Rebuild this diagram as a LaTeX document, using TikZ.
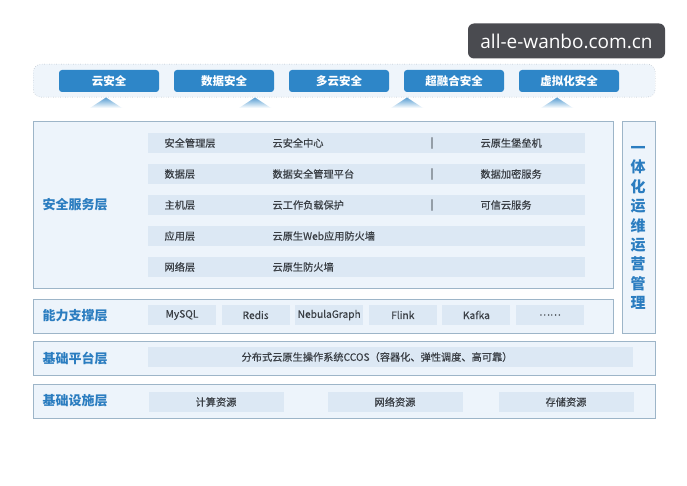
\documentclass[tikz,border=0pt]{standalone}
\usepackage{fontspec}
\setmainfont{Noto Sans CJK SC}
\newfontfamily\cellfont{Noto Sans CJK SC}[FakeBold=0.4]
\newfontfamily\markfont{Open Sans}
\usepackage{xcolor}
\usepackage{tikz}

\definecolor{btnblue}{HTML}{2E86C8}
\definecolor{layerblue}{HTML}{2B7DC0}
\definecolor{boxline}{HTML}{9DB5C8}
\definecolor{boxfill}{HTML}{EDF4FB}
\definecolor{barfill}{HTML}{DCE8F4}
\definecolor{topfill}{HTML}{EFF5FB}
\definecolor{dotline}{HTML}{8E9AA6}
\definecolor{textgray}{HTML}{3A3F45}
\definecolor{markgray}{HTML}{4A4B50}

\tikzset{
    layerbox/.style={draw=boxline, fill=boxfill, line width=0.9pt, inner sep=0pt, anchor=north west},
    layername/.style={text=layerblue, font=\bfseries\fontsize{13}{13}\selectfont},
    barbox/.style={fill=barfill, minimum height=20pt, inner sep=0pt},
    celltext/.style={text=textgray, font=\cellfont\fontsize{10.2}{10.2}\selectfont},
    topbtn/.style={fill=btnblue, rounded corners=3pt, minimum width=100pt, minimum height=22pt,
        inner sep=0pt, text=white, font=\bfseries\fontsize{11.5}{11.5}\selectfont},
}

\begin{document}
\begin{tikzpicture}[x=1pt, y=-1pt]
    % page
    \fill[white] (0,0) rectangle (687,486);

    % watermark
    \node[fill=markgray, rounded corners=6pt, minimum width=197pt, minimum height=35pt,
        inner sep=0pt, text=white, font=\markfont\fontsize{19}{19}\selectfont] (mark) at (566.5,41) {all-e-wanbo.com.cn};

    % top row of products
    \node[draw=dotline, dotted, fill=topfill, rounded corners=8pt, minimum width=622pt,
        minimum height=33pt, inner sep=0pt, anchor=north west] (topbar) at (33,64) {};
    \foreach \x/\t [count=\i] in {109/云安全, 224/数据安全, 339/多云安全, 454/超融合安全, 569/虚拟化安全}
        \node[topbtn] (btn\i) at (\x,81) {\t};
    \foreach \x in {106,255,407,557}
        \shade[top color=btnblue!80, bottom color=white] (\x-16,108) -- (\x,97.5) -- (\x+16,108) -- cycle;

    % security services
    \node[layerbox, minimum width=580pt, minimum height=167pt] (secbox) at (33,121) {};
    \node[layername] (secname) at (75,205) {安全服务层};
    \foreach \y/\a/\b [count=\i] in {143/安全管理层/云安全中心, 174/数据层/数据安全管理平台,
        205/主机层/云工作负载保护, 236/应用层/云原生Web应用防火墙, 267/网络层/云原生防火墙}
    {
        \node[barbox, minimum width=437pt] (row\i) at (366.5,\y) {};
        \node[celltext, anchor=west] (rowa\i) at (161,\y) {\a};
        \node[celltext, anchor=west] (rowb\i) at (269,\y) {\b};
    }
    \foreach \c [count=\i] in {云原生堡垒机, 数据加密服务, 可信云服务}
    {
        \node[celltext] (sep\i) at ([xshift=65.5pt]row\i.center) {|};
        \node[celltext, anchor=west] (rowc\i) at ([xshift=110.5pt]row\i.center) {\c};
    }

    % operations column
    \node[layerbox, minimum width=33pt, minimum height=212pt] (opsbox) at (622,121) {};
    \node[text=layerblue, font=\bfseries\fontsize{15}{19.4}\selectfont, align=center] (opsname)
        at (638,228) {一\\体\\化\\运\\维\\运\\营\\管\\理};

    % capability layer
    \node[layerbox, minimum width=580pt, minimum height=34pt] (capbox) at (33,299) {};
    \node[layername] (capname) at (75,316) {能力支撑层};
    \foreach \t [count=\i] in {MySQL, Redis, NebulaGraph, Flink, Kafka, {……}}
    {
        \node[barbox, minimum width=68pt] (cap\i) at (182+73.6*\i-73.6,315) {};
        \node[celltext] (capt\i) at (cap\i) {\t};
    }

    % platform layer
    \node[layerbox, minimum width=622pt, minimum height=34pt] (platbox) at (33,341) {};
    \node[layername] (platname) at (75,358) {基础平台层};
    \node[barbox, minimum width=485pt] (plat) at (390.5,357) {};
    \node[celltext] (platt) at (377,357) {分布式云原生操作系统CCOS（容器化、弹性调度、高可靠）};

    % infrastructure layer
    \node[layerbox, minimum width=622pt, minimum height=34pt] (infbox) at (33,384) {};
    \node[layername] (infname) at (75,401) {基础设施层};
    \foreach \x/\t [count=\i] in {216/计算资源, 395/网络资源, 566/存储资源}
    {
        \node[barbox, minimum width=135pt] (inf\i) at (\x,402) {};
        \node[celltext] (inft\i) at (inf\i) {\t};
    }
\end{tikzpicture}
\end{document}
